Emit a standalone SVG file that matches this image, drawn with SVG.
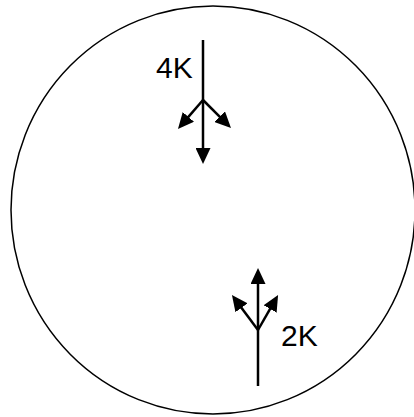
<svg xmlns="http://www.w3.org/2000/svg" width="414" height="417" viewBox="0 0 414 417">
<style>
.arr{stroke:#000;stroke-width:2.5;fill:none;marker-end:url(#ah)}
.lbl{font-family:"Liberation Sans",Arial,sans-serif;font-size:30px;fill:#000}
</style>
<defs>
<marker id="ah" markerUnits="userSpaceOnUse" markerWidth="16" markerHeight="15" refX="2" refY="7.5" orient="auto" viewBox="0 0 16 15">
<path d="M0,0 L16,7.5 L0,15 z" fill="#000"/>
</marker>
</defs>
<g id="circle">
<ellipse cx="213" cy="210" rx="202" ry="204" fill="#fff" stroke="#000" stroke-width="1.5"/>
</g>
<g id="connectors">
<line class="arr" x1="203" y1="40" x2="203" y2="150"/>
<line class="arr" x1="203" y1="100" x2="187.1" y2="118.4"/>
<line class="arr" x1="203" y1="100" x2="221.1" y2="118.1"/>
<line class="arr" x1="258" y1="386" x2="258" y2="282"/>
<line class="arr" x1="258" y1="330" x2="240.3" y2="306.2"/>
<line class="arr" x1="258" y1="330" x2="271.1" y2="307.2"/>
</g>
<g id="label-4k"><text class="lbl" x="156" y="78">4K</text></g>
<g id="label-2k"><text class="lbl" x="281" y="346">2K</text></g>
</svg>
